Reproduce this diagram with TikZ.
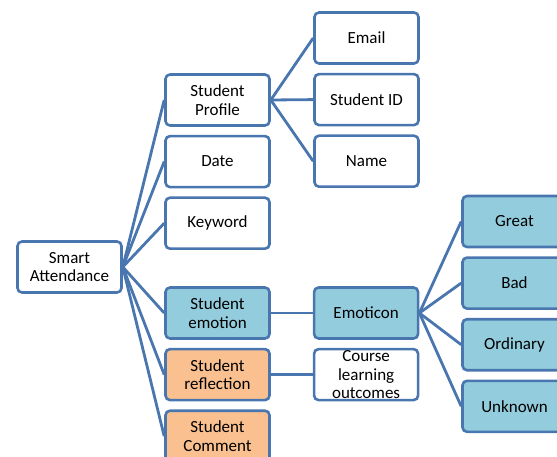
\documentclass[tikz,border=0pt]{standalone}
\usepackage{fontspec}
\setmainfont{Carlito}
\definecolor{edgeblue}{RGB}{74, 118, 176}
\definecolor{lightaqua}{RGB}{147, 205, 221}
\definecolor{peach}{RGB}{250, 192, 144}
\usetikzlibrary{positioning}

\begin{document}
\begin{tikzpicture}[
    x=1pt, y=1pt,
    node distance=8pt,
    itembox/.style={rectangle, draw=edgeblue, line width=2.6pt, fill=white, rounded corners=4.5pt, minimum width=104pt, minimum height=51pt, inner ysep=0pt, align=center, font=\fontsize{17}{18.5}\selectfont},
    aquabox/.style={itembox, fill=lightaqua},
    peachbox/.style={itembox, fill=peach},
    link/.style={edgeblue, line width=2.8pt}
]
    \useasboundingbox (0,0) rectangle (557,-457);
    \clip (0,0) rectangle (557,-457);

    % root
    \node[itembox] (attend) at (69.5,-267) {Smart\\Attendance};

    % second column
    \node[itembox] (profile) at (217.5,-100) {Student\\Profile};
    \node[itembox, below=of profile] (date) {Date};
    \node[itembox, below=of date] (keyword) {Keyword};
    \node[aquabox] (emotion) at (217.5,-313) {Student\\emotion};
    \node[peachbox, below=of emotion] (reflect) {Student\\reflection};
    \node[peachbox, below=of reflect] (comment) {Student\\Comment};

    % third column
    \node[itembox] (email) at (366.5,-38) {Email};
    \node[itembox, below=of email] (sid) {Student ID};
    \node[itembox, below=of sid] (name) {Name};
    \node[aquabox, right=42pt of emotion] (emoticon) {Emoticon};
    \node[itembox, below=of emoticon] (outcomes) {Course\\learning\\outcomes};

    % fourth column
    \node[aquabox] (great) at (514.5,-221.5) {Great};
    \node[aquabox, below=of great] (bad) {Bad};
    \node[aquabox, below=of bad] (ordinary) {Ordinary};
    \node[aquabox, below=of ordinary] (unknown) {Unknown};

    \foreach \n in {profile, date, keyword, emotion, reflect, comment}
        \draw[link] (attend.east) -- (\n.west);
    \foreach \n in {email, sid, name}
        \draw[link] (profile.east) -- (\n.west);
    \foreach \n in {great, bad, ordinary, unknown}
        \draw[link] (emoticon.east) -- (\n.west);
    \draw[link] (emotion) -- (emoticon);
    \draw[link] (reflect) -- (outcomes);
\end{tikzpicture}
\end{document}
